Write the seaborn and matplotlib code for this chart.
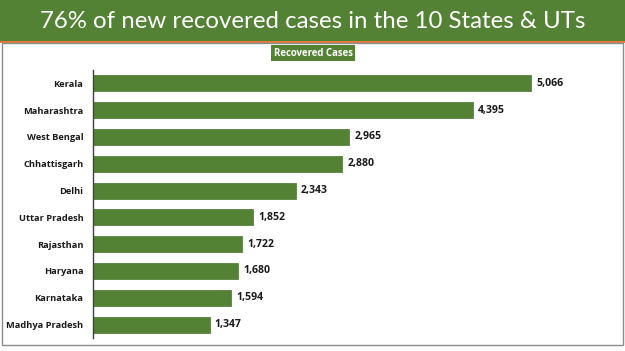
import matplotlib
matplotlib.use("Agg")
import matplotlib.pyplot as plt
from matplotlib.patches import Rectangle
from matplotlib.ticker import FixedLocator
import seaborn as sns
import pandas as pd

states = ["Kerala", "Maharashtra", "West Bengal", "Chhattisgarh", "Delhi",
          "Uttar Pradesh", "Rajasthan", "Haryana", "Karnataka", "Madhya Pradesh"]
recovered = [5066, 4395, 2965, 2880, 2343, 1852, 1722, 1680, 1594, 1347]
title = "76% of new recovered cases in the 10 States & UTs"
legend_label = "Recovered Cases"

GREEN = "#548235"
W, H = 625, 351

sns.set_theme(style="white")
plt.rcParams["font.family"] = ["Open Sans", "DejaVu Sans"]

df = pd.DataFrame({"State": states, "Recovered": recovered})

fig = plt.figure(figsize=(W / 100, H / 100), dpi=100)

def fx(px):
    return px / W

def fy(py):
    return 1 - py / H

# title banner
fig.patches.append(Rectangle((0, fy(41)), 1, 41 / H, transform=fig.transFigure,
                             facecolor=GREEN, edgecolor="none", zorder=0))
fig.patches.append(Rectangle((0, fy(43)), 1, 2 / H, transform=fig.transFigure,
                             facecolor="#E07B39", edgecolor="none", zorder=0))
# panel border
fig.patches.append(Rectangle((fx(2), fy(345)), fx(621), (345 - 43) / H,
                             transform=fig.transFigure, facecolor="none",
                             edgecolor="#8C8C8C", linewidth=1.0, zorder=0))
fig.text(0.5, fy(21), title, color="white", fontsize=17.3, ha="center",
         va="center", family=["Lato", "DejaVu Sans"])

ax = fig.add_axes([fx(93), fy(338), fx(612 - 93), (338 - 70) / H])
sns.barplot(data=df, x="Recovered", y="State", orient="h", color=GREEN,
            width=0.6, ax=ax, saturation=1, edgecolor="#4A7530", linewidth=0.5)
ax.set_xlim(0, 6000)
ax.set_ylim(len(states) - 0.5, -0.5)
ax.set_xlabel("")
ax.set_ylabel("")
ax.set_xticks([])
for s in ["top", "right", "bottom"]:
    ax.spines[s].set_visible(False)
ax.spines["left"].set_color("#404040")
ax.spines["left"].set_linewidth(1.0)
ax.tick_params(axis="y", which="major", length=0, pad=7)
ax.yaxis.set_minor_locator(FixedLocator([i - 0.5 for i in range(len(states) + 1)]))
ax.tick_params(axis="y", which="minor", length=4, width=1, color="#404040")
for lbl in ax.get_yticklabels():
    lbl.set_fontsize(6.7)
    lbl.set_fontweight("bold")
    lbl.set_color("#1a1a1a")

for i, v in enumerate(recovered):
    ax.text(v + 60, i, f"{v:,}", va="center", ha="left", fontsize=7.6,
            fontweight="bold", color="#1a1a1a")

# legend box
fig.text(fx(313), fy(53), legend_label, color="white", fontsize=6.9,
         fontweight="bold", ha="center", va="center",
         bbox=dict(boxstyle="square,pad=0.3", facecolor=GREEN, edgecolor="none"))

fig.savefig("out.png", dpi=100)
